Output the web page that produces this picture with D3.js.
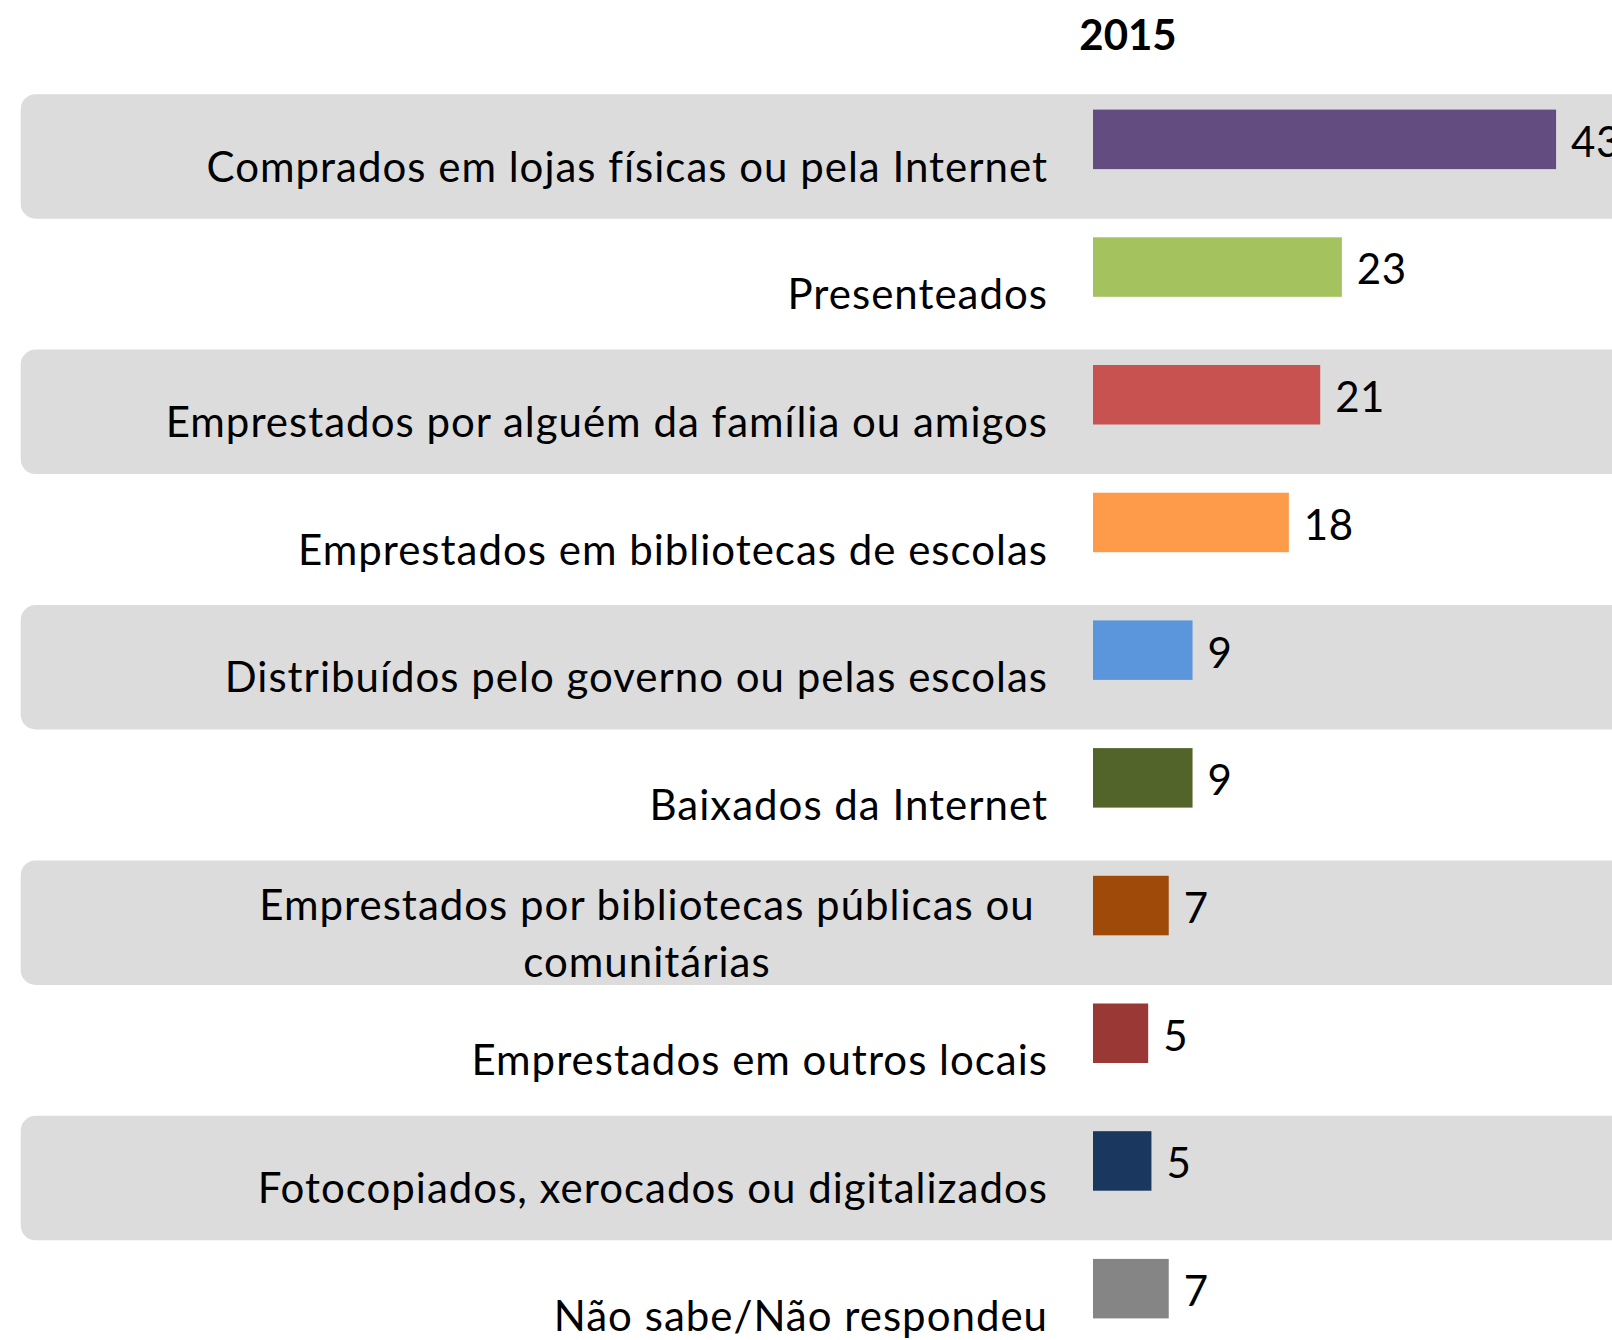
<html>
  <head>
    <meta charset="utf-8">
    <style>
      body { margin: 0; background: #ffffff; }
      svg { display: block; }
    </style>
  </head>
  <body>
    <svg id="barchart" width="1612" height="1340"></svg>
    <script src="https://d3js.org/d3.v7.js"></script>
    <script>
      // categories (each inner array = lines of the label)
      var categories = [
        ["Comprados em lojas físicas ou pela Internet"],
        ["Presenteados"],
        ["Emprestados por alguém da família ou amigos"],
        ["Emprestados em bibliotecas de escolas"],
        ["Distribuídos pelo governo ou pelas escolas"],
        ["Baixados da Internet"],
        ["Emprestados por bibliotecas públicas ou", "comunitárias"],
        ["Emprestados em outros locais"],
        ["Fotocopiados, xerocados ou digitalizados"],
        ["Não sabe/Não respondeu"]
      ];
      var values = [42.8, 23.0, 21.0, 18.1, 9.2, 9.2, 7.0, 5.1, 5.4, 7.0];
      var colors = ["#634D80", "#A4C25D", "#C85250", "#FD9B4A", "#5B95DC",
                    "#52642A", "#9F4A08", "#9A3836", "#1A375F", "#858585"];
      var seriesName = "2015";

      var data = categories.map(function(c, i) {
        return { key: c.join(" "), lines: c, value: values[i], color: colors[i], idx: i };
      });

      var width = 1612, height = 1340;
      var font = "Lato, 'Open Sans', sans-serif";
      var fontSize = 42;

      var svg = d3.select("#barchart");

      var y = d3.scaleBand()
        .domain(data.map(function(d) { return d.key; }))
        .range([109.6, 1318.4])
        .paddingInner(0.534)
        .paddingOuter(0);

      var x = d3.scaleLinear()
        .domain([0, 43])
        .range([1093, 1093 + 43 * 10.82]);

      // alternating grey row bands
      svg.append("g").selectAll("rect")
        .data(data.filter(function(d) { return d.idx % 2 == 0; }))
        .enter()
        .append("rect")
        .attr("x", 20.7)
        .attr("y", function(d) { return y(d.key) - 15.4; })
        .attr("width", width + 40)
        .attr("height", 124.5)
        .attr("rx", 15)
        .attr("ry", 15)
        .attr("fill", "#DCDCDC");

      // title
      svg.append("text")
        .attr("x", 1128)
        .attr("y", 50)
        .attr("text-anchor", "middle")
        .style("font-family", font)
        .style("font-size", fontSize + "px")
        .style("font-weight", "bold")
        .text(seriesName);

      // bars
      svg.append("g").selectAll("rect")
        .data(data)
        .enter()
        .append("rect")
        .attr("x", x(0))
        .attr("y", function(d) { return y(d.key); })
        .attr("width", function(d) { return x(d.value) - x(0); })
        .attr("height", y.bandwidth())
        .attr("fill", function(d) { return d.color; });

      // value labels
      svg.append("g").selectAll("text")
        .data(data)
        .enter()
        .append("text")
        .attr("x", function(d) { return x(d.value) + 15; })
        .attr("y", function(d) { return y(d.key) + y.bandwidth() / 2 + 17.4; })
        .style("font-family", font)
        .style("font-size", fontSize + "px")
        .style("letter-spacing", "0.5px")
        .attr("fill", "#000")
        .text(function(d) { return d3.format(".0f")(d.value); });

      // category labels
      var labels = svg.append("g").selectAll("text")
        .data(data)
        .enter()
        .append("text")
        .style("font-family", font)
        .style("font-size", fontSize + "px")
        .style("letter-spacing", "1px")
        .attr("fill", "#000")
        .attr("text-anchor", function(d) { return d.lines.length > 1 ? "middle" : "end"; })
        .attr("x", function(d) { return d.lines.length > 1 ? 647 : 1048; })
        .attr("y", function(d) { return y(d.key) + 72; });

      labels.selectAll("tspan")
        .data(function(d) { return d.lines.map(function(l, j) { return { text: l, j: j, n: d.lines.length }; }); })
        .enter()
        .append("tspan")
        .attr("x", function(t) { return t.n > 1 ? 647 : 1048; })
        .attr("dy", function(t) { return t.n > 1 ? (t.j == 0 ? -28 : 57) : 0; })
        .text(function(t) { return t.text; });
    </script>
  </body>
</html>
